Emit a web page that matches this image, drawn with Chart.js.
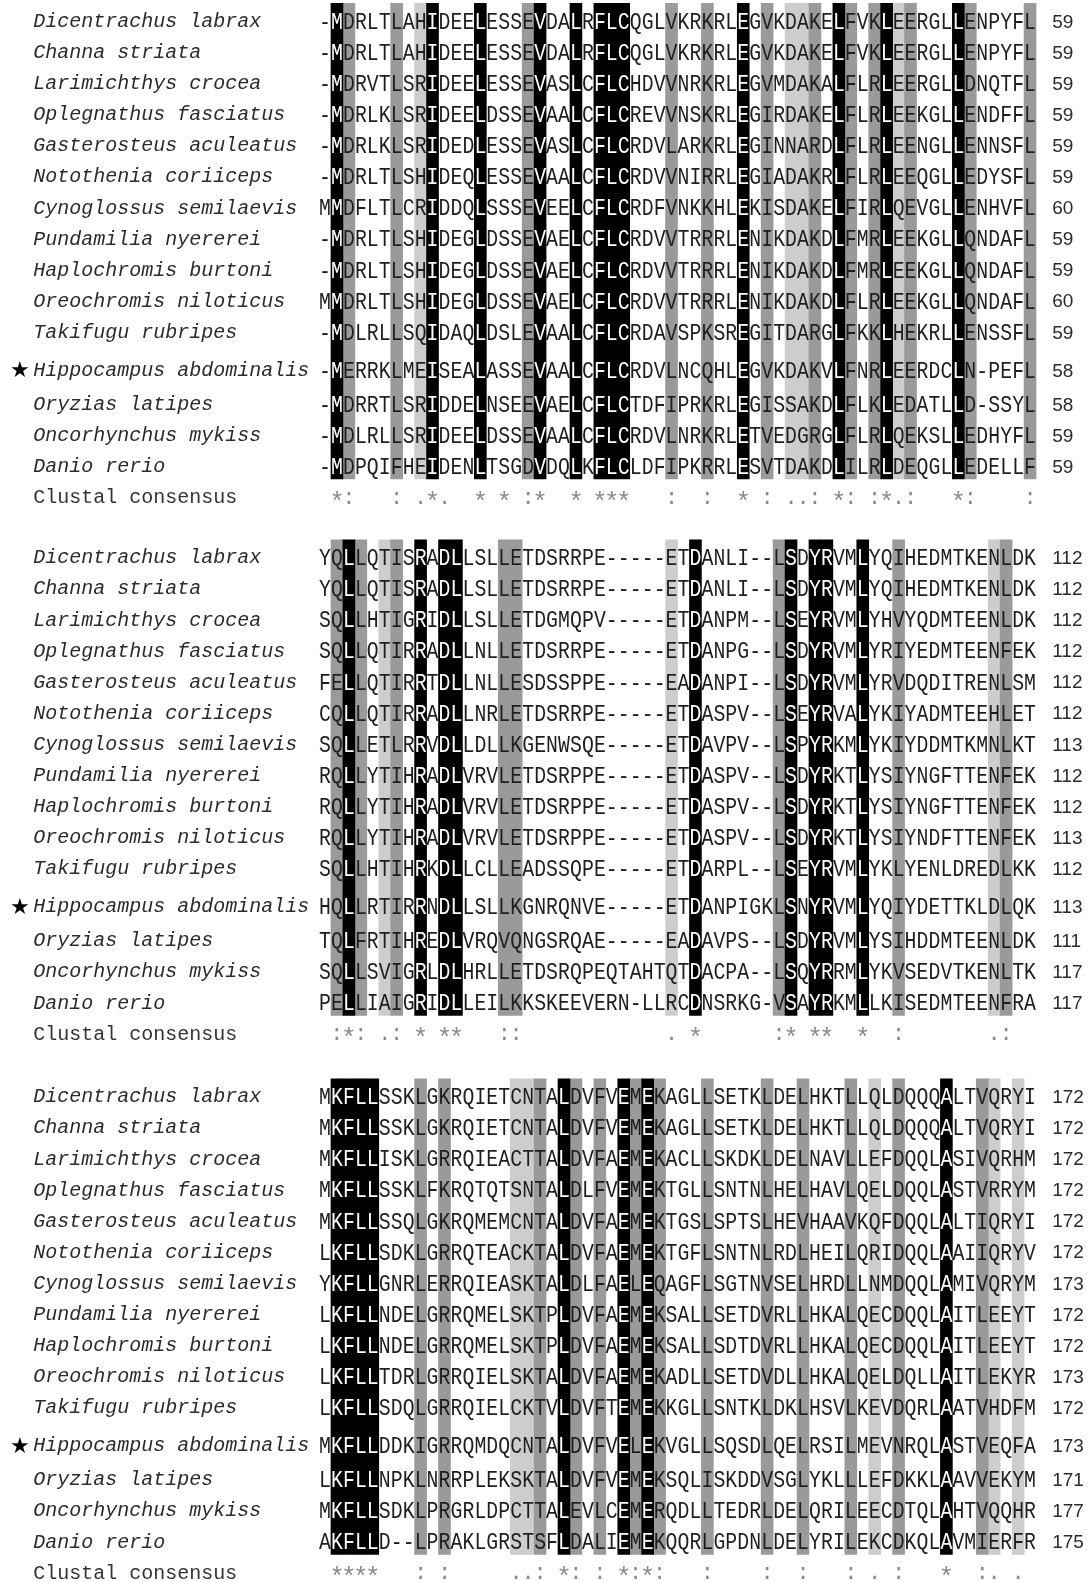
<!DOCTYPE html>
<html>
<head>
<meta charset="utf-8">
<title>Clustal alignment</title>
<script src="https://cdn.jsdelivr.net/npm/chart.js@4.4.1/dist/chart.umd.min.js"></script>
<style>
  html, body { margin: 0; padding: 0; background: #ffffff; }
  #wrap { width: 1091px; height: 1582px; position: relative; }
  canvas { display: block; }
</style>
</head>
<body>
<div id="wrap"><canvas id="aln" width="1091" height="1582"></canvas></div>
<script>
// ---- alignment data ----
const species = [
  "Dicentrachus labrax", "Channa striata", "Larimichthys crocea", "Oplegnathus fasciatus",
  "Gasterosteus aculeatus", "Notothenia coriiceps", "Cynoglossus semilaevis", "Pundamilia nyererei",
  "Haplochromis burtoni", "Oreochromis niloticus", "Takifugu rubripes", "Hippocampus abdominalis",
  "Oryzias latipes", "Oncorhynchus mykiss", "Danio rerio"
];
const markedSpecies = "Hippocampus abdominalis";
const consensusLabel = "Clustal consensus";

const block1 = [
  "-MDRLTLAHIDEELESSEVDALRFLCQGLVKRKRLEGVKDAKELFVKLEERGLLENPYFL",
  "-MDRLTLAHIDEELESSEVDALRFLCQGLVKRKRLEGVKDAKELFVKLEERGLLENPYFL",
  "-MDRVTLSRIDEELESSEVASLCFLCHDVVNRKRLEGVMDAKALFLRLEERGLLDNQTFL",
  "-MDRLKLSRIDEELDSSEVAALCFLCREVVNSKRLEGIRDAKELFLRLEEKGLLENDFFL",
  "-MDRLKLSRIDEDLESSEVASLCFLCRDVLARKRLEGINNARDLFLRLEENGLLENNSFL",
  "-MDRLTLSHIDEQLESSEVAALCFLCRDVVNIRRLEGIADAKRLFLRLEEQGLLEDYSFL",
  "MMDFLTLCRIDDQLSSSEVEELCFLCRDFVNKKHLEKISDAKELFIRLQEVGLLENHVFL",
  "-MDRLTLSHIDEGLDSSEVAELCFLCRDVVTRRRLENIKDAKDLFMRLEEKGLLQNDAFL",
  "-MDRLTLSHIDEGLDSSEVAELCFLCRDVVTRRRLENIKDAKDLFMRLEEKGLLQNDAFL",
  "MMDRLTLSHIDEGLDSSEVAELCFLCRDVVTRRRLENIKDAKDLFLRLEEKGLLQNDAFL",
  "-MDLRLLSQIDAQLDSLEVAALCFLCRDAVSPKSREGITDARGLFKKLHEKRLLENSSFL",
  "-MERRKLMEISEALASSEVAALCFLCRDVLNCQHLEGVKDAKVLFNRLEERDCLN-PEFL",
  "-MDRRTLSRIDDELNSEEVAELCFLCTDFIPRKRLEGISSAKDLFLKLEDATLLD-SSYL",
  "-MDLRLLSRIDEELDSSEVAALCFLCRDVLNRKRLETVEDGRGLFLRLQEKSLLEDHYFL",
  "-MDPQIFHEIDENLTSGDVDQLKFLCLDFIPKRRLESVTDAKDLILRLDEQGLLEDELLF"
];
const block2 = [
  "YQLLQTISRADLLSLLETDSRRPE-----ETDANLI--LSDYRVMLYQIHEDMTKENLDK",
  "YQLLQTISRADLLSLLETDSRRPE-----ETDANLI--LSDYRVMLYQIHEDMTKENLDK",
  "SQLLHTIGRIDLLSLLETDGMQPV-----ETDANPM--LSEYRVMLYHVYQDMTEENLDK",
  "SQLLQTIRRADLLNLLETDSRRPE-----ETDANPG--LSDYRVMLYRIYEDMTEENFEK",
  "FELLQTIRRTDLLNLLESDSSPPE-----EADANPI--LSDYRVMLYRVDQDITRENLSM",
  "CQLLQTIRRADLLNRLETDSRRPE-----ETDASPV--LSEYRVALYKIYADMTEEHLET",
  "SQLLETLRRVDLLDLLKGENWSQE-----ETDAVPV--LSPYRKMLYKIYDDMTKMNLKT",
  "RQLLYTIHRADLVRVLETDSRPPE-----ETDASPV--LSDYRKTLYSIYNGFTTENFEK",
  "RQLLYTIHRADLVRVLETDSRPPE-----ETDASPV--LSDYRKTLYSIYNGFTTENFEK",
  "RQLLYTIHRADLVRVLETDSRPPE-----ETDASPV--LSDYRKTLYSIYNDFTTENFEK",
  "SQLLHTIHRKDLLCLLEADSSQPE-----ETDARPL--LSEYRVMLYKLYENLDREDLKK",
  "HQLLRTIRRNDLLSLLKGNRQNVE-----ETDANPIGKLSNYRVMLYQIYDETTKLDLQK",
  "TQLFRTIHREDLVRQVQNGSRQAE-----EADAVPS--LSDYRVMLYSIHDDMTEENLDK",
  "SQLLSVIGRLDLHRLLETDSRQPEQTAHTQTDACPA--LSQYRRMLYKVSEDVTKENLTK",
  "PELLIAIGRIDLLEILKKSKEEVERN-LLRCDNSRKG-VSAYRKMLLKISEDMTEENFRA"
];
const block3 = [
  "MKFLLSSKLGKRQIETCNTALDVFVEMEKAGLLSETKLDELHKTLLQLDQQQALTVQRYI",
  "MKFLLSSKLGKRQIETCNTALDVFVEMEKAGLLSETKLDELHKTLLQLDQQQALTVQRYI",
  "MKFLLISKLGRRQIEACTTALDVFAEMEKACLLSKDKLDELNAVLLEFDQQLASIVQRHM",
  "MKFLLSSKLFKRQTQTSNTALDLFVEMEKTGLLSNTNLHELHAVLQELDQQLASTVRRYM",
  "MKFLLSSQLGKRQMEMCNTALDVFAEMEKTGSLSPTSLHEVHAAVKQFDQQLALTIQRYI",
  "LKFLLSDKLGRRQTEACKTALDVFAEMEKTGFLSNTNLRDLHEILQRIDQQLAAIIQRYV",
  "YKFLLGNRLERRQIEASKTALDLFAELEQAGFLSGTNVSELHRDLLNMDQQLAMIVQRYM",
  "LKFLLNDELGRRQMELSKTPLDVFAEMEKSALLSETDVRLLHKALQECDQQLAITLEEYT",
  "LKFLLNDELGRRQMELSKTPLDVFAEMEKSALLSDTDVRLLHKALQECDQQLAITLEEYT",
  "LKFLLTDRLGRRQIELSKTALDVFAEMEKADLLSETDVDLLHKALQELDQLLAITLEKYR",
  "LKFLLSDQLGRRQIELCKTVLDVFTEMEKKGLLSNTKLDKLHSVLKEVDQRLAATVHDFM",
  "MKFLLDDKIGRRQMDQCNTALDVFVELEKVGLLSQSDLQELRSILMEVNRQLASTVEQFA",
  "LKFLLNPKLNRRPLEKSKTALDVFVEMEKSQLISKDDVSGLYKLLLEFDKKLAAVVEKYM",
  "MKFLLSDKLPRGRLDPCTTALEVLCEMERQDLLTEDRLDELQRILEECDTQLAHTVQQHR",
  "AKFLLD--LPRAKLGRSTSFLDALIEMEKQQRLGPDNLDELYRILEKCDKQLAVMIERFR"
];

// residue counts at the end of each line
const ends1 = [59, 59, 59, 59, 59, 59, 60, 59, 59, 60, 59, 58, 58, 59, 59];
const ends2 = [112, 112, 112, 112, 112, 112, 113, 112, 112, 113, 112, 113, 111, 117, 117];
const ends3 = [172, 172, 172, 172, 172, 172, 173, 172, 172, 173, 172, 173, 171, 177, 175];

// Clustal consensus line for each block (one character per column)
const consensus1 = [" *:   : .*", ".  * * :* ", " * ***   :", "  :  * : .", ".: *: :*.:", "   *:    :"].join("");
const consensus2 = [" :*: .: * ", "**   ::   ", "         .", " *      :*", " **  *  : ", "      .:  "].join("");
const consensus3 = [" ****   : ", ":     ..: ", "*: : *:*: ", "  :    :  ", ":   : . : ", "  *  :. . "].join("");

// column shading: '*' black, ':' dark grey, '.' light grey
const shade1 = [" *:   : .*", "   *   :* ", " * ***   :", "  :  * : .", ".: *: :*.:", "   *:    :"].join("");
const shade2 = [" :*: .: * ", "**   ::   ", "         .", " *      :*", " **  *  : ", "      .:  "].join("");
const shade3 = [" ****   : ", ":     ..: ", "*: : *:*: ", "  :    :  ", ":   : . : ", "  *  :. . "].join("");

const shadeLevels = [
  { sym: "*", label: "100%", color: "#000000" },
  { sym: ":", label: "strong", color: "#9a9a9a" },
  { sym: ".", label: "weak", color: "#cdcdcd" }
];

// ---- layout (column and row units) ----
const W = 1091, H = 1582;
const COL_PX = 11.95;          // width of one alignment column
const COL1_PX = 325;           // centre of column 1
const ROW_PX = 31.1;           // line pitch
const ROW0_PX = 20.7;          // centre of the first line
const X_MIN = -26, X_MAX = 65;
const blockStart = [0, 17.248, 34.579];
const MARK_GAP = 7 / ROW_PX;   // extra space above the marked line
const AFTER_GAP = 9.8 / ROW_PX; // extra space from the marked line on
const BAND_TOP = 17.4 / ROW_PX;
const BAND_BOTTOM = 13 / ROW_PX;
const NAME_COL = -23.42;       // left edge of the species names
const NUM_COL = 61.85;         // left edge of the residue counts
const STAR_COL = -25.35;

const blocks = [
  { seqs: block1, ends: ends1, cons: consensus1, shade: shade1 },
  { seqs: block2, ends: ends2, cons: consensus2, shade: shade2 },
  { seqs: block3, ends: ends3, cons: consensus3, shade: shade3 }
];

function rowY(b, r) {
  let v = blockStart[b] + r;
  if (r >= 11) v += MARK_GAP;
  if (r >= 12) v += AFTER_GAP - MARK_GAP;
  return v;
}

function bandPoints(sym) {
  const pts = [];
  blocks.forEach((blk, b) => {
    for (let c = 1; c <= blk.shade.length; c++) {
      if (blk.shade[c - 1] === sym) {
        pts.push({ x: c, y: [rowY(b, 0) - BAND_TOP, rowY(b, species.length - 1) + BAND_BOTTOM] });
      }
    }
  });
  return pts;
}

function isBlack(b, c) {
  return blocks[b].shade[c - 1] === "*";
}

// ---- text layer: residues, names, counts and consensus ----
const textLayer = {
  id: "alignmentText",
  afterDatasetsDraw(chart) {
    const { ctx, scales: { x, y } } = chart;
    ctx.save();
    ctx.textAlign = "left";

    const seqFont = '23px "Liberation Mono"';
    ctx.font = seqFont;
    const capH = ctx.measureText("M").actualBoundingBoxAscent;
    const squeeze = 0.86;

    blocks.forEach((blk, b) => {
      blk.seqs.forEach((seq, r) => {
        const cy = y.getPixelForValue(rowY(b, r));
        const base = cy + capH / 2;

        // species name
        ctx.font = 'italic 20px "Liberation Mono"';
        ctx.fillStyle = "#2b2b2b";
        ctx.textAlign = "left";
        ctx.fillText(species[r], x.getPixelForValue(NAME_COL), cy + 6.2);
        if (species[r] === markedSpecies) {
          ctx.font = '22px "DejaVu Sans"';
          ctx.fillStyle = "#000";
          ctx.fillText("\u2605", x.getPixelForValue(STAR_COL), cy + 7.5);
        }

        // residues, one per column
        ctx.font = seqFont;
        ctx.textAlign = "center";
        for (let c = 1; c <= seq.length; c++) {
          const ch = seq[c - 1];
          const cx = x.getPixelForValue(c);
          ctx.fillStyle = isBlack(b, c) ? "#ffffff" : "#1e1e1e";
          ctx.save();
          ctx.translate(cx, base);
          ctx.scale(squeeze, 1);
          ctx.fillText(ch, 0, 0);
          ctx.restore();
        }

        // residue count
        ctx.font = '19px "Liberation Sans"';
        ctx.fillStyle = "#2b2b2b";
        ctx.textAlign = "left";
        ctx.fillText(String(blk.ends[r]), x.getPixelForValue(NUM_COL), cy + 6.8);
      });

      // consensus line
      const cr = species.length;
      const cy = y.getPixelForValue(rowY(b, cr));
      ctx.font = '20px "Liberation Mono"';
      ctx.fillStyle = "#333";
      ctx.textAlign = "left";
      ctx.fillText(consensusLabel, x.getPixelForValue(NAME_COL), cy + 6.2);
      ctx.fillStyle = "#8a8a8a";
      ctx.textAlign = "center";
      for (let c = 1; c <= blk.cons.length; c++) {
        const ch = blk.cons[c - 1];
        if (ch === " ") continue;
        const cx = x.getPixelForValue(c);
        if (ch === "*") {
          ctx.font = '26px "Liberation Mono"';
          const m = ctx.measureText("*");
          ctx.fillText("*", cx, cy - 1 + (m.actualBoundingBoxAscent - m.actualBoundingBoxDescent) / 2);
        } else {
          ctx.font = '22px "Liberation Mono"';
          ctx.fillText(ch, cx, cy + 6.5);
        }
      }
    });
    ctx.restore();
  }
};

const padLeft = COL1_PX - (1 - X_MIN) * COL_PX;
const padRight = W - (COL1_PX + (X_MAX - 1) * COL_PX);
const yMin = -ROW0_PX / ROW_PX;
const yMax = yMin + H / ROW_PX;

new Chart(document.getElementById("aln"), {
  type: "bar",
  data: {
    datasets: shadeLevels.map(l => ({
      label: l.label,
      data: bandPoints(l.sym),
      backgroundColor: l.color,
      borderWidth: 0,
      borderSkipped: false,
      grouped: false,
      barPercentage: 1,
      categoryPercentage: 1
    }))
  },
  options: {
    responsive: false,
    devicePixelRatio: 1,
    animation: false,
    events: [],
    layout: { padding: { left: padLeft, right: padRight, top: 0, bottom: 0 } },
    plugins: { legend: { display: false }, tooltip: { enabled: false } },
    scales: {
      x: { type: "linear", min: X_MIN, max: X_MAX, offset: false, display: false,
           ticks: { stepSize: 1, includeBounds: false }, grid: { display: false } },
      y: { type: "linear", min: yMin, max: yMax, reverse: true, display: false,
           grid: { display: false } }
    }
  },
  plugins: [textLayer]
});
</script>
</body>
</html>
